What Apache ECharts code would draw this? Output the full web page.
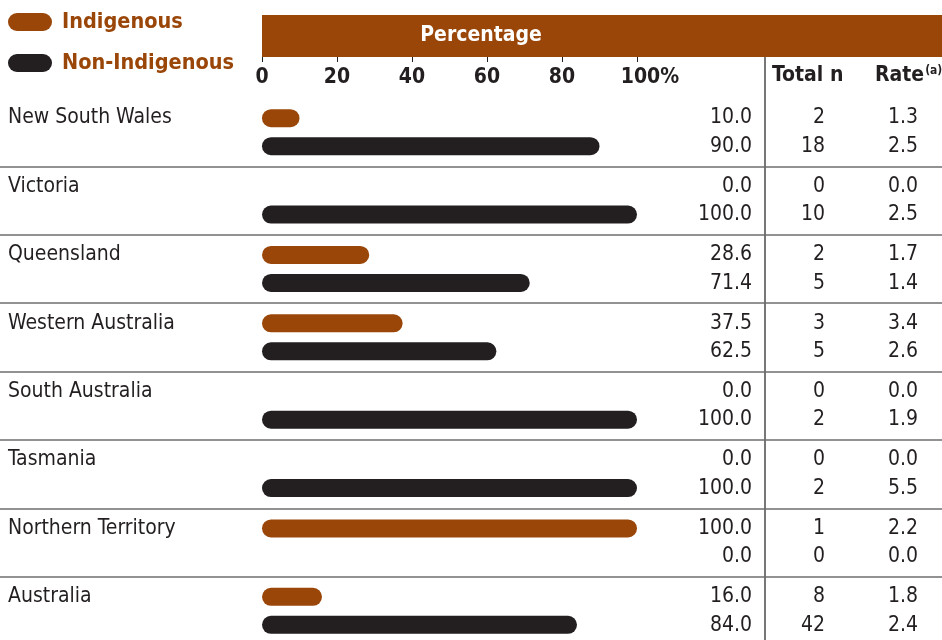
<!DOCTYPE html>
<html>
<head>
<meta charset="utf-8">
<script src="https://cdn.jsdelivr.net/npm/echarts@6/dist/echarts.min.js"></script>
<style>
  html, body { margin: 0; padding: 0; background: #fff; overflow: hidden; }
  /* a bit taller than the window: the last row runs off the bottom edge */
  #myChart { width: 942px; height: 660px; }
</style>
</head>
<body>
<div id="myChart"></div>
<script>
// data
var states = ["New South Wales", "Victoria", "Queensland", "Western Australia",
  "South Australia", "Tasmania", "Northern Territory", "Australia"];
var indigenousPct = [10.0, 0.0, 28.6, 37.5, 0.0, 0.0, 100.0, 16.0];
var nonIndigenousPct = [90.0, 100.0, 71.4, 62.5, 100.0, 100.0, 0.0, 84.0];
var indigenousN = [2, 0, 2, 3, 0, 0, 1, 8];
var nonIndigenousN = [18, 10, 5, 5, 2, 2, 0, 42];
var indigenousRate = [1.3, 0.0, 1.7, 3.4, 0.0, 0.0, 2.2, 1.8];
var nonIndigenousRate = [2.5, 2.5, 1.4, 2.6, 1.9, 5.5, 0.0, 2.4];
var pctTicks = [0, 20, 40, 60, 80, 100];

var brown = "#9a4609";
var dark = "#231f20";
var font = "'DejaVu Sans Condensed', 'DejaVu Sans'";
var bodySize = 21;

var myChart = echarts.init(document.getElementById("myChart"));

// one row of numbers per category, two lines (Indigenous / Non-Indigenous)
function twoLines(a, b, digits) {
  return function (value, index) {
    return a[index].toFixed(digits) + "\n" + b[index].toFixed(digits);
  };
}

function numberAxis(offset, fmt) {
  return {
    type: "category",
    gridIndex: 2,
    inverse: true,
    position: "left",
    offset: offset,
    data: states,
    axisLine: { show: false },
    axisTick: { show: false },
    axisLabel: {
      interval: 0,
      margin: 0,
      formatter: fmt,
      fontFamily: font,
      fontSize: bodySize,
      lineHeight: 28.5,
      padding: [3, 0, 0, 0],
      color: dark,
    },
  };
}

myChart.setOption({
  animation: false,
  textStyle: { fontFamily: font },
  legend: {
    orient: "vertical",
    left: 8,
    top: 11,
    padding: 0,
    itemWidth: 44,
    itemHeight: 18,
    itemGap: 19,
    icon: "path://M9,0 H35 A9,9 0 0 1 35,18 H9 A9,9 0 0 1 9,0 Z",
    textStyle: {
      color: brown,
      fontWeight: "bold",
      fontSize: 21.5,
      fontFamily: font,
      padding: [0, 0, 0, 5],
    },
    data: ["Indigenous", "Non-Indigenous"],
  },
  grid: [
    // bars
    { left: 262, width: 375, top: 98, height: 547 },
    // full width: state names and separators
    { left: 0, right: 0, top: 98, height: 547 },
    // number columns
    { left: 940, right: 1, top: 98, height: 547 },
  ],
  xAxis: [
    {
      type: "value",
      gridIndex: 0,
      position: "top",
      offset: 41,
      min: pctTicks[0],
      max: pctTicks[pctTicks.length - 1],
      interval: 20,
      axisLine: { show: false },
      axisTick: { show: true, inside: true, length: 5, lineStyle: { color: dark } },
      splitLine: { show: false },
      axisLabel: {
        inside: true,
        margin: 10,
        fontWeight: "bold",
        fontSize: 21,
        color: dark,
        formatter: function (v) {
          return v === 100 ? "{p|100%}" : v;
        },
        rich: {
          p: { fontWeight: "bold", fontSize: 21, color: dark, padding: [0, 0, 0, 26] },
        },
      },
    },
    { type: "value", gridIndex: 1, show: false },
    { type: "value", gridIndex: 2, show: false },
  ],
  yAxis: [
    {
      type: "category",
      gridIndex: 0,
      inverse: true,
      data: states,
      show: false,
    },
    {
      type: "category",
      gridIndex: 1,
      inverse: true,
      data: states,
      axisLine: { show: false },
      axisTick: { show: false },
      splitLine: {
        show: true,
        interval: function (index) {
          return index > 0 && index < states.length;
        },
        lineStyle: { color: "#6e6e6e", width: 1.5 },
      },
      axisLabel: {
        inside: true,
        interval: 0,
        margin: 8,
        fontSize: bodySize,
        lineHeight: 28.5,
        padding: [3, 0, 0, 0],
        color: dark,
        formatter: function (v) {
          return v + "\n";
        },
      },
    },
    numberAxis(188, twoLines(indigenousPct, nonIndigenousPct, 1)),
    numberAxis(115, twoLines(indigenousN, nonIndigenousN, 0)),
    numberAxis(22, twoLines(indigenousRate, nonIndigenousRate, 1)),
  ],
  graphic: [
    // header band
    {
      type: "rect",
      shape: { x: 262, y: 15, width: 680, height: 42 },
      style: { fill: brown },
      z: 0,
    },
    {
      type: "text",
      x: 481,
      y: 36,
      style: {
        text: "Percentage",
        fill: "#fff",
        font: "bold 21px " + font,
        textAlign: "center",
        textVerticalAlign: "middle",
      },
    },
    // vertical divider before the table columns
    {
      type: "line",
      shape: { x1: 765, y1: 57, x2: 765, y2: 660 },
      style: { stroke: "#4a4a4a", lineWidth: 1.5 },
    },
    {
      type: "text",
      x: 772,
      y: 76,
      style: {
        text: "Total n",
        fill: dark,
        font: "bold 21px " + font,
        textVerticalAlign: "middle",
      },
    },
    {
      type: "text",
      x: 875,
      y: 76,
      style: {
        text: "{a|Rate}{b|(a)}",
        textVerticalAlign: "middle",
        rich: {
          a: { fontFamily: font, fontWeight: "bold", fontSize: 21, fill: dark },
          b: { fontFamily: font, fontWeight: "bold", fontSize: 12, fill: dark, padding: [0, 0, 10, 1] },
        },
      },
    },
  ],
  series: [
    {
      name: "Indigenous",
      type: "bar",
      xAxisIndex: 0,
      yAxisIndex: 0,
      data: indigenousPct,
      barWidth: 18,
      barGap: "55%",
      itemStyle: { color: brown, borderRadius: 9 },
    },
    {
      name: "Non-Indigenous",
      type: "bar",
      xAxisIndex: 0,
      yAxisIndex: 0,
      data: nonIndigenousPct,
      barWidth: 18,
      barGap: "55%",
      itemStyle: { color: dark, borderRadius: 9 },
    },
  ],
});
</script>
</body>
</html>
